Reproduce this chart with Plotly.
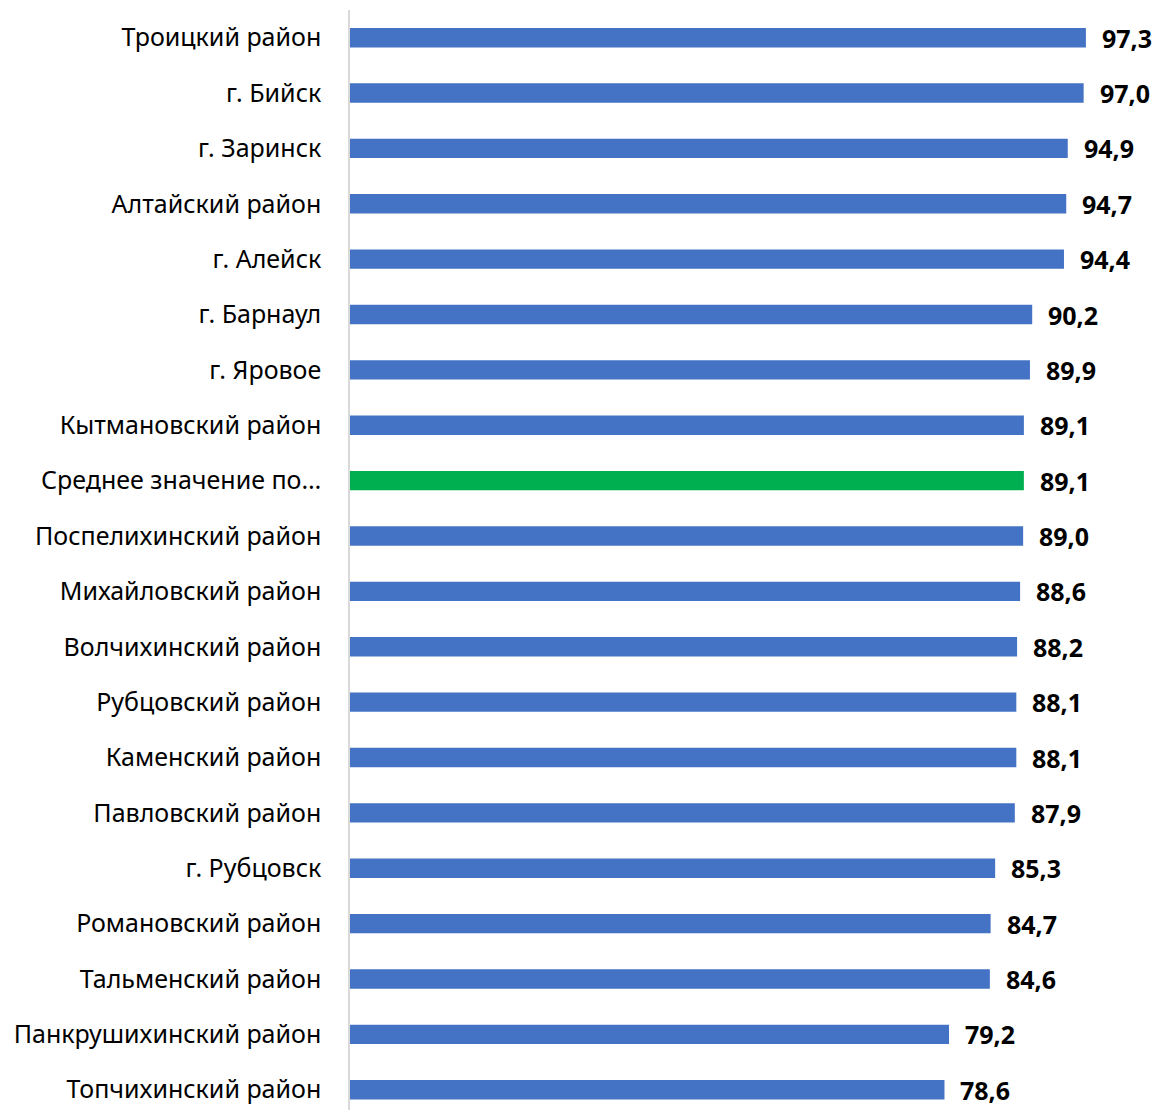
import plotly.graph_objects as go

categories = [
    "Троицкий район", "г. Бийск", "г. Заринск", "Алтайский район", "г. Алейск",
    "г. Барнаул", "г. Яровое", "Кытмановский район", "Среднее значение по…",
    "Поспелихинский район", "Михайловский район", "Волчихинский район",
    "Рубцовский район", "Каменский район", "Павловский район", "г. Рубцовск",
    "Романовский район", "Тальменский район", "Панкрушихинский район",
    "Топчихинский район",
]
values = [97.3, 97.0, 94.9, 94.7, 94.4, 90.2, 89.9, 89.1, 89.1, 89.0,
          88.6, 88.2, 88.1, 88.1, 87.9, 85.3, 84.7, 84.6, 79.2, 78.6]
value_labels = [f"{v:.1f}".replace(".", ",") for v in values]
highlight = "Среднее значение по…"

colors = ["#00B050" if c == highlight else "#4472C4" for c in categories]

FONT = "Noto Sans"

fig = go.Figure()
fig.add_trace(go.Bar(
    x=values, y=categories, orientation="h",
    marker=dict(color=colors, line=dict(width=0)),
    width=0.35, hoverinfo="skip",
))

for c, v, t in zip(categories, values, value_labels):
    fig.add_annotation(
        x=v, y=c, text=f"<b>{t}</b>", showarrow=False,
        xanchor="left", yanchor="middle", xshift=14,
        font=dict(family=FONT, size=25, color="#000000"),
    )

fig.update_layout(
    width=1157, height=1110,
    margin=dict(l=350, r=0, t=10, b=0),
    paper_bgcolor="white", plot_bgcolor="white",
    showlegend=False,
    font=dict(family=FONT, size=25, color="#000000"),
    xaxis=dict(range=[0, 106.7], visible=False, showgrid=False, zeroline=False),
    yaxis=dict(
        type="category", categoryorder="array", categoryarray=categories,
        range=[19.366, -0.5], showgrid=False, zeroline=False,
        showline=True, linecolor="#D9D9D9", linewidth=1.5,
        ticks="", ticklabelstandoff=22,
        tickfont=dict(family=FONT, size=25, color="#000000"),
    ),
)

fig.write_html(
    "out.html",
    config={"displayModeBar": False},
    post_script="document.body.style.margin='0';document.body.style.overflow='hidden';",
)
